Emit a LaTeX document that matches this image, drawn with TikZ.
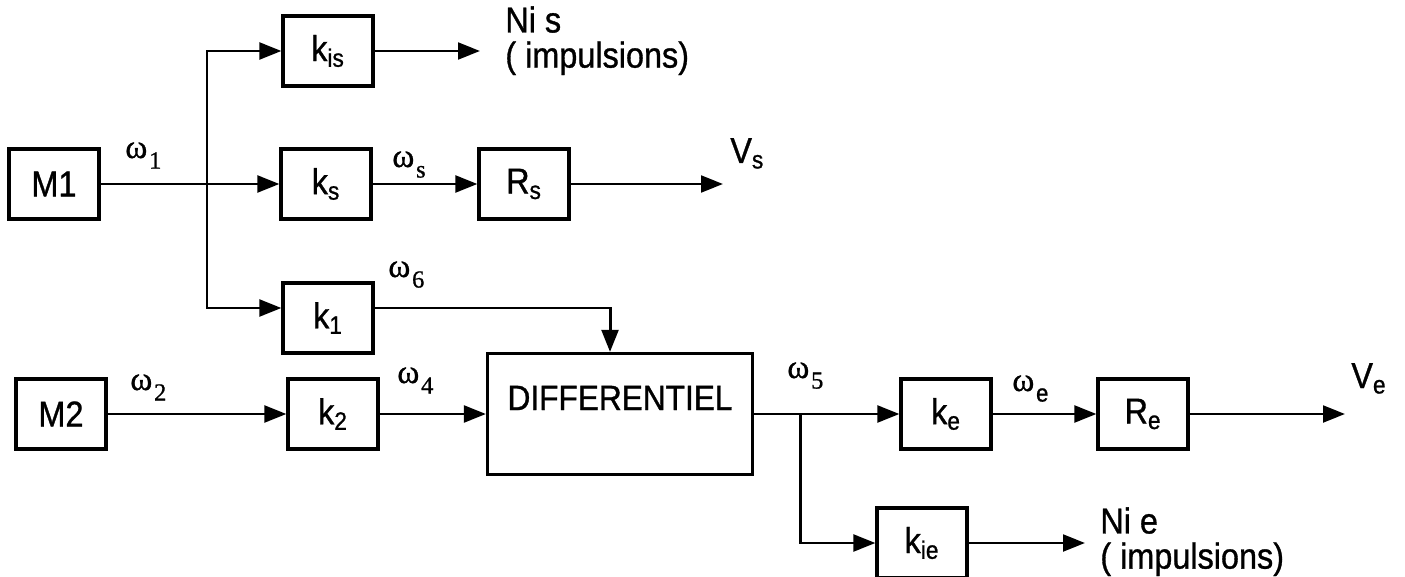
\documentclass[tikz,border=0pt]{standalone}
\usepackage{fontspec}
\setmainfont{Liberation Sans}[FakeStretch=0.9,FakeBold=0.9]
\newfontfamily\grec{Liberation Serif}[FakeBold=0.8]
\usetikzlibrary{arrows.meta,positioning,calc}
\newcommand{\om}[2][\grec]{{\grec\fontsize{19}{19}\selectfont ω}\kern1pt\raisebox{-6pt}{#1\fontsize{14}{14}\selectfont #2}}

\begin{document}
\begin{tikzpicture}[x=0.02cm,y=-0.02cm,
    every node/.style={font=\fontsize{20.5}{20}\selectfont},
    bloc/.style={draw,line width=1.8pt,minimum width=1.8cm,minimum height=1.4cm,inner sep=0pt},
    lien/.style={line width=1.7pt},
    fl/.style={line width=1.7pt,-{Triangle[length=12.5pt,width=9.5pt]}},
    omega/.style={anchor=base west,inner sep=0pt},
    sortie/.style={anchor=north west,align=left,inner sep=0pt}]
        \useasboundingbox (0,0) rectangle (1405,577);
        % blocs
        \node[bloc] (m1) at (54,184) {M1};
        \node[bloc] (kis) at (328,51) {k\textsubscript{is}};
        \node[bloc] (ks) at (326,184) {k\textsubscript{s}};
        \node[bloc] (rs) at (524,184) {R\textsubscript{s}};
        \node[bloc] (k1) at (328,318) {k\textsubscript{1}};
        \node[bloc] (m2) at (61,414) {M2};
        \node[bloc] (k2) at (333,414) {k\textsubscript{2}};
        \node[bloc,minimum width=5.3cm,minimum height=2.42cm,text height=15pt,text depth=19.5pt,font=\fontsize{20}{20}\selectfont] (diff) at (620,414) {DIFFERENTIEL};
        \node[bloc] (ke) at (946,414) {k\textsubscript{e}};
        \node[bloc] (re) at (1143,414) {R\textsubscript{e}};
        \node[bloc] (kie) at (922,543) {k\textsubscript{ie}};
        % points
        \coordinate (j1) at (207,184);
        \coordinate (j2) at (800,414);
        \coordinate (nis) at (480,51);
        \coordinate (vs) at (723,184);
        \coordinate (ve) at (1345,414);
        \coordinate (nie) at (1085,543);
        % liaisons
        \draw[lien] (m1) -- (j1);
        \draw[fl] (j1) -- (ks);
        \draw[fl] (j1) |- (kis);
        \draw[fl] (j1) |- ([yshift=0.2cm]k1.west);
        \draw[fl] (kis) -- (nis);
        \draw[fl] (ks) -- (rs);
        \draw[fl] (rs) -- (vs);
        \draw[fl] ([yshift=0.2cm]k1.east) -| ([xshift=-0.2cm]diff.north);
        \draw[fl] (m2) -- (k2);
        \draw[fl] (k2) -- (diff);
        \draw[lien] (diff) -- (j2);
        \draw[fl] (j2) -- (ke);
        \draw[fl] (j2) |- (kie);
        \draw[fl] (ke) -- (re);
        \draw[fl] (re) -- (ve);
        \draw[fl] (kie) -- (nie);
        % textes
        \node[omega] (w1) at (125,158) {\om{1}};
        \node[omega] (ws) at (392,167) {\om{s}};
        \node[omega] (w6) at (388,277) {\om{6}};
        \node[omega] (w2) at (130,390) {\om{2}};
        \node[omega] (w4) at (397,383) {\om{4}};
        \node[omega] (w5) at (787,378) {\om{5}};
        \node[omega] (we) at (1012,391) {\om[\normalfont]{e}};
        \node[anchor=base west,inner sep=0pt] (tvs) at (730,163) {V\textsubscript{s}};
        \node[anchor=base west,inner sep=0pt] (tve) at (1351,388) {V\textsubscript{e}};
        \node[sortie] (tnis) at (505,6) {Ni s\\( impulsions)};
        \node[sortie] (tnie) at (1100,507) {Ni e\\( impulsions)};
\end{tikzpicture}
\end{document}
